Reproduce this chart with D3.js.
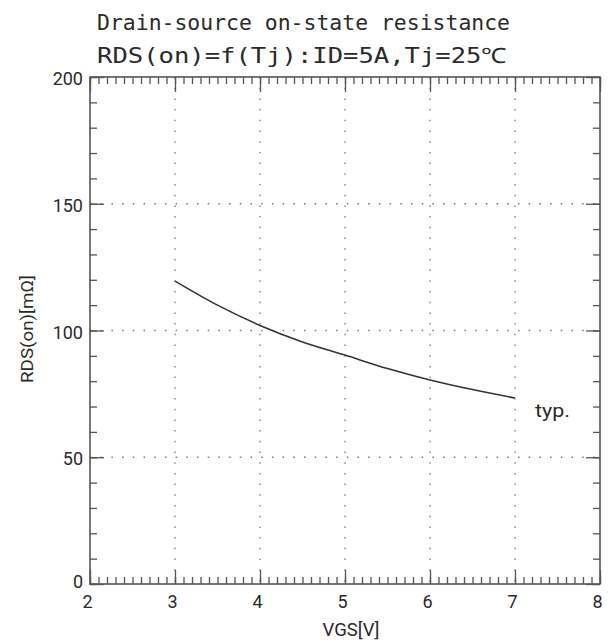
<!DOCTYPE html>
<html>
<head>
<meta charset="utf-8">
<script src="https://cdn.jsdelivr.net/npm/d3@7"></script>
<style>
  body { margin: 0; background: #fff; }
  svg text { font-family: Roboto, "Liberation Sans", sans-serif; fill: #2a2a2a; }
</style>
</head>
<body>
<svg id="chart" width="612" height="642"></svg>
<script>
// curve
var vgs = [3, 3.5, 4, 4.5, 5, 5.5, 6, 6.5, 7];
var rds = [119.5, 110, 102, 95.5, 90.3, 85, 80.5, 76.7, 73.4];

var xTicks = [2, 3, 4, 5, 6, 7, 8];
var yTicks = [0, 50, 100, 150, 200];
var titleLines = ["Drain-source on-state resistance", "RDS(on)=f(Tj):ID=5A,Tj=25\u2103"];

var svg = d3.select("#chart"),
    margin = {top: 77, right: 12, bottom: 58, left: 90},
    width = +svg.attr("width") - margin.left - margin.right,
    height = +svg.attr("height") - margin.top - margin.bottom,
    g = svg.append("g").attr("transform", "translate(" + margin.left + "," + margin.top + ")");

var x = d3.scaleLinear().domain([2, 8]).range([0, width]);
var y = d3.scaleLinear().domain([0, 200]).range([height, 0]);

// dotted grid
g.append("g").selectAll("line.gx")
    .data(xTicks.slice(1, -1)).enter().append("line")
    .attr("x1", d => x(d)).attr("x2", d => x(d))
    .attr("y1", 0).attr("y2", height)
    .attr("stroke", "#777").attr("stroke-width", 1.3)
    .attr("stroke-dasharray", "1.5,9.2");
g.append("g").selectAll("line.gy")
    .data(yTicks.slice(1, -1)).enter().append("line")
    .attr("y1", d => y(d)).attr("y2", d => y(d))
    .attr("x1", 0).attr("x2", width)
    .attr("stroke", "#777").attr("stroke-width", 1.3)
    .attr("stroke-dasharray", "1.5,9.2");

// tick marks, all pointing inward
var minorX = d3.range(2, 8.001, 0.1),
    minorY = d3.range(0, 200.001, 10);

function ticks(axis, vals, size) {
    return axis.tickValues(vals).tickSizeInner(-size).tickSizeOuter(0).tickFormat("");
}
function styleAxis(sel) {
    sel.select(".domain").remove();
    sel.selectAll("line").attr("stroke", "#555").attr("stroke-width", 1.3);
}
g.append("g").attr("transform", "translate(0," + height + ")")
    .call(ticks(d3.axisBottom(x), minorX, 7)).call(styleAxis);
g.append("g").attr("transform", "translate(0," + height + ")")
    .call(ticks(d3.axisBottom(x), xTicks, 14)).call(styleAxis);
g.append("g")
    .call(ticks(d3.axisTop(x), minorX, 7)).call(styleAxis);
g.append("g")
    .call(ticks(d3.axisTop(x), xTicks, 15)).call(styleAxis);
g.append("g")
    .call(ticks(d3.axisLeft(y), minorY, 7)).call(styleAxis);
g.append("g")
    .call(ticks(d3.axisLeft(y), yTicks, 14)).call(styleAxis);
g.append("g").attr("transform", "translate(" + width + ",0)")
    .call(ticks(d3.axisRight(y), minorY, 7)).call(styleAxis);
g.append("g").attr("transform", "translate(" + width + ",0)")
    .call(ticks(d3.axisRight(y), yTicks, 14)).call(styleAxis);

// frame
g.append("rect").attr("width", width).attr("height", height)
    .attr("fill", "none").attr("stroke", "#555").attr("stroke-width", 1.6);

// tick labels
g.selectAll("text.xl").data(xTicks).enter().append("text")
    .attr("x", d => x(d) - 2.5).attr("y", height + 24)
    .attr("text-anchor", "middle").attr("font-size", 18)
    .text(d => d);
g.selectAll("text.yl").data(yTicks).enter().append("text")
    .attr("x", -7).attr("y", d => y(d) + (d === 0 ? 4 : 8))
    .attr("text-anchor", "end").attr("font-size", 18)
    .text(d => d);

// curve
var line = d3.line().x((d, i) => x(vgs[i])).y(d => y(d)).curve(d3.curveMonotoneX);
g.append("path").datum(rds)
    .attr("d", line)
    .attr("fill", "none").attr("stroke", "#333").attr("stroke-width", 1.6);

g.append("text").attr("x", 535 - margin.left).attr("y", 417 - margin.top)
    .attr("font-size", 19).attr("textLength", 35).attr("lengthAdjust", "spacingAndGlyphs")
    .text("typ.");

// axis titles
svg.append("text").attr("x", 351).attr("y", 636)
    .attr("text-anchor", "middle").attr("font-size", 18)
    .attr("textLength", 57).attr("lengthAdjust", "spacingAndGlyphs")
    .text("VGS[V]");
svg.append("text")
    .attr("transform", "translate(33,329) rotate(-90)")
    .attr("text-anchor", "middle").attr("font-size", 17)
    .attr("textLength", 108).attr("lengthAdjust", "spacingAndGlyphs")
    .text("RDS(on)[m\u03a9]");

// title, monospaced to mimic the gothic cell spacing
svg.selectAll("text.title").data(titleLines).enter().append("text")
    .attr("x", 97).attr("y", (d, i) => 30 + i * 33)
    .style("font-family", "'DejaVu Sans Mono', monospace")
    .attr("font-size", 21)
    .attr("textLength", (d, i) => i === 0 ? 413 : 410)
    .attr("lengthAdjust", "spacingAndGlyphs")
    .text(d => d);
</script>
</body>
</html>
